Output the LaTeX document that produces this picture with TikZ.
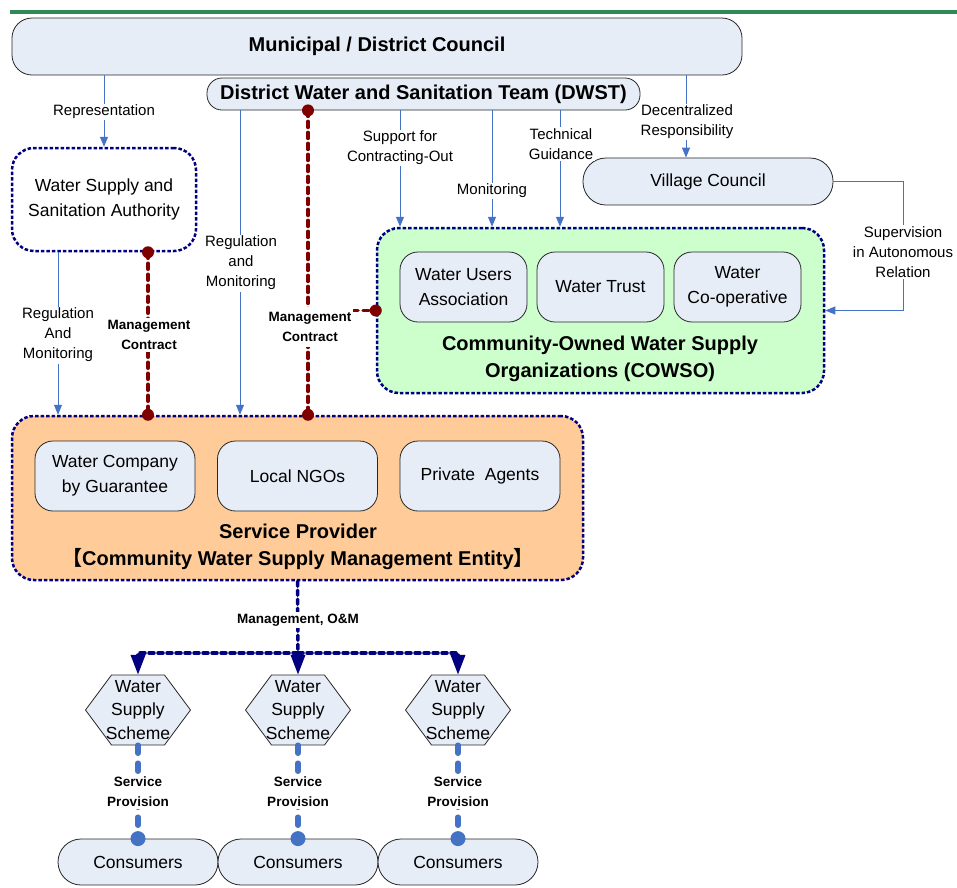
\documentclass[tikz,border=0pt]{standalone}
\usepackage{fontspec}
\setmainfont{Liberation Sans}
\newfontfamily\cjkfont{Noto Sans CJK SC}
\usetikzlibrary{arrows.meta}

\definecolor{boxblue}{RGB}{231,237,247}
\definecolor{cowsogreen}{RGB}{204,255,204}
\definecolor{sporange}{RGB}{255,204,153}
\definecolor{linkblue}{RGB}{68,114,196}
\definecolor{groupnavy}{RGB}{0,0,128}
\definecolor{mcred}{RGB}{128,0,0}
\definecolor{topgreen}{RGB}{46,139,87}

\tikzset{
  box/.style={draw=black!85, line width=0.8pt, fill=boxblue, align=center,
    inner sep=2pt, font=\fontsize{17.5}{25}\selectfont},
  title/.style={align=center, font=\bfseries\fontsize{20}{27}\selectfont},
  group/.style={draw=groupnavy, line width=2.5pt, dash pattern=on 3.5pt off 2pt,
    rounded corners=22pt},
  link/.style={linkblue, line width=1pt, -{Triangle[length=10pt,width=8pt]}},
  linklabel/.style={fill=white, inner sep=1.5pt, align=center,
    font=\fontsize{15}{20}\selectfont},
  boldlabel/.style={fill=white, inner sep=2pt, align=center,
    font=\bfseries\fontsize{13.5}{20}\selectfont},
  contract/.style={mcred, line width=3.5pt, dash pattern=on 6pt off 5pt, line cap=round},
  omline/.style={groupnavy, line width=3.5pt, dash pattern=on 5pt off 4pt, line cap=round},
  omarrow/.style={omline, -{Triangle[length=20pt,width=14pt]}},
  service/.style={linkblue, line width=5.5pt, dash pattern=on 8pt off 10pt, line cap=round},
  hexline/.style={draw=black!85, line width=0.8pt, fill=boxblue},
  hextext/.style={minimum width=105pt, minimum height=70pt, inner sep=0pt, align=center,
    font=\fontsize{17.5}{23.5}\selectfont}
}

\begin{document}
\begin{tikzpicture}[x=1pt,y=-1pt]
\useasboundingbox (0,0) rectangle (957,887);
\draw[topgreen, line width=4.5pt] (10,12) -- (957,12);

% council and district team
\node[box, title, rounded corners=20pt, minimum width=730pt, minimum height=57pt] (council) at (377,46.5) {Municipal / District Council};
\node[box, title, rounded corners=15pt, minimum width=433pt, minimum height=32pt] (dwst) at (423.5,94) {District Water and Sanitation Team (DWST)};

\node[box, group, fill=white, minimum width=184pt, minimum height=103pt] (wssa) at (104,199.5) {Water Supply and\\Sanitation Authority};
\node[box, rounded corners=23pt, minimum width=250pt, minimum height=47pt] (village) at (708,181.5) {Village Council};

% community owned organisations
\node[box, group, fill=cowsogreen, minimum width=447pt, minimum height=165pt] (cowso) at (600.5,310.5) {};
\node[box, rounded corners=18pt, minimum width=127pt, minimum height=70pt] (wua) at (463.5,287) {Water Users\\Association};
\node[box, rounded corners=18pt, minimum width=127pt, minimum height=70pt] (trust) at (600.5,287) {Water Trust};
\node[box, rounded corners=18pt, minimum width=127pt, minimum height=70pt] (coop) at (737.5,287) {Water\\Co-operative};
\node[title] (cowsotitle) at (600,358.5) {Community-Owned Water Supply\\Organizations (COWSO)};

% service provider
\node[box, group, fill=sporange, minimum width=571pt, minimum height=164pt] (provider) at (297.5,498) {};
\node[box, rounded corners=18pt, minimum width=160pt, minimum height=70pt] (company) at (115,476) {Water Company\\by Guarantee};
\node[box, rounded corners=18pt, minimum width=160pt, minimum height=70pt] (ngos) at (297.5,476) {Local NGOs};
\node[box, rounded corners=18pt, minimum width=160pt, minimum height=70pt] (agents) at (480,476) {Private\ \ Agents};
\node[title] (providertitle) at (298,546.5) {Service Provider\\{\cjkfont 【}Community Water Supply Management Entity{\cjkfont 】}};

% schemes and consumers
\foreach \i/\x in {1/138,2/298,3/458} {
  \filldraw[hexline] (\x-52.5,710) -- ++(26,-35) -- ++(53,0) -- ++(26,35) -- ++(-26,35) -- ++(-53,0) -- cycle;
  \node[hextext] (ws\i) at (\x,710) {Water\\Supply\\Scheme};
  \node[box, rounded corners=23pt, minimum width=160pt, minimum height=46pt] (c\i) at (\x,862) {Consumers};
}

% blue links
\draw[link] (wssa.north |- council.south) -- (wssa.north);
\node[linklabel] (replab) at (104,112) {Representation};

\coordinate (ram) at (58,0);
\draw[link] (ram |- wssa.south) -- (ram |- provider.north);
\node[linklabel] (ramlab) at (58,335) {Regulation\\And\\Monitoring};

\coordinate (rm) at (240,0);
\draw[link] (rm |- dwst.south) -- (rm |- provider.north);
\node[linklabel] (rmlab) at (241,263) {Regulation\\and\\Monitoring};

\coordinate (sup) at (400,0);
\draw[link] (sup |- dwst.south) -- (sup |- cowso.north);
\node[linklabel] (suplab) at (400,148) {Support for\\Contracting-Out};

\coordinate (mon) at (492,0);
\draw[link] (mon |- dwst.south) -- (mon |- cowso.north);
\node[linklabel] (monlab) at (492,191) {Monitoring};

\coordinate (tech) at (560,0);
\draw[link] (tech |- dwst.south) -- (tech |- cowso.north);
\node[linklabel] (techlab) at (561,144) {Technical\\Guidance};

\coordinate (dec) at (686,0);
\draw[link] (dec |- council.south) -- (dec |- village.north);
\node[linklabel] (declab) at (687,122) {Decentralized\\Responsibility};

\coordinate (sv) at (903,0);
\draw[link] (village.east) -| (sv |- cowso.east) -- (cowso.east);
\node[linklabel] (svlab) at (903,252) {Supervision\\in Autonomous\\Relation};

% management contracts
\coordinate (mcl) at (148,0);
\draw[contract] (mcl |- wssa.south) -- (mcl |- provider.north);
\fill[mcred] (mcl |- wssa.south) circle (6pt);
\fill[mcred] (mcl |- provider.north) circle (6pt);
\node[boldlabel] (mcllab) at (149,335) {Management\\Contract};

\coordinate (mcr) at (308,0);
\draw[contract] (mcr |- dwst.south) -- (mcr |- provider.north);
\draw[contract] (mcr |- cowso.west) -- (cowso.west);
\fill[mcred] (mcr |- dwst.south) circle (6pt);
\fill[mcred] (mcr |- provider.north) circle (6pt);
\fill[mcred] (cowso.west) circle (6pt);
\node[boldlabel, inner ysep=5pt] (mcrlab) at (310,327) {Management\\Contract};

% management and operation of the schemes
\coordinate (split) at (298,653);
\draw[omline] (provider.south) -- (split);
\draw[omarrow] (split) -| (ws1.north);
\draw[omarrow] (split) -| (ws3.north);
\draw[omarrow] (split) -- (ws2.north);
\node[boldlabel] (omlab) at (298,620) {Management, O\&M};

\foreach \i/\x in {1/138,2/298,3/458} {
  \draw[service] (ws\i.south) -- (c\i.north);
  \fill[linkblue] (c\i.north) circle (7.5pt);
  \node[boldlabel] (splab\i) at (\x,792) {Service\\Provision};
}
\end{tikzpicture}
\end{document}
